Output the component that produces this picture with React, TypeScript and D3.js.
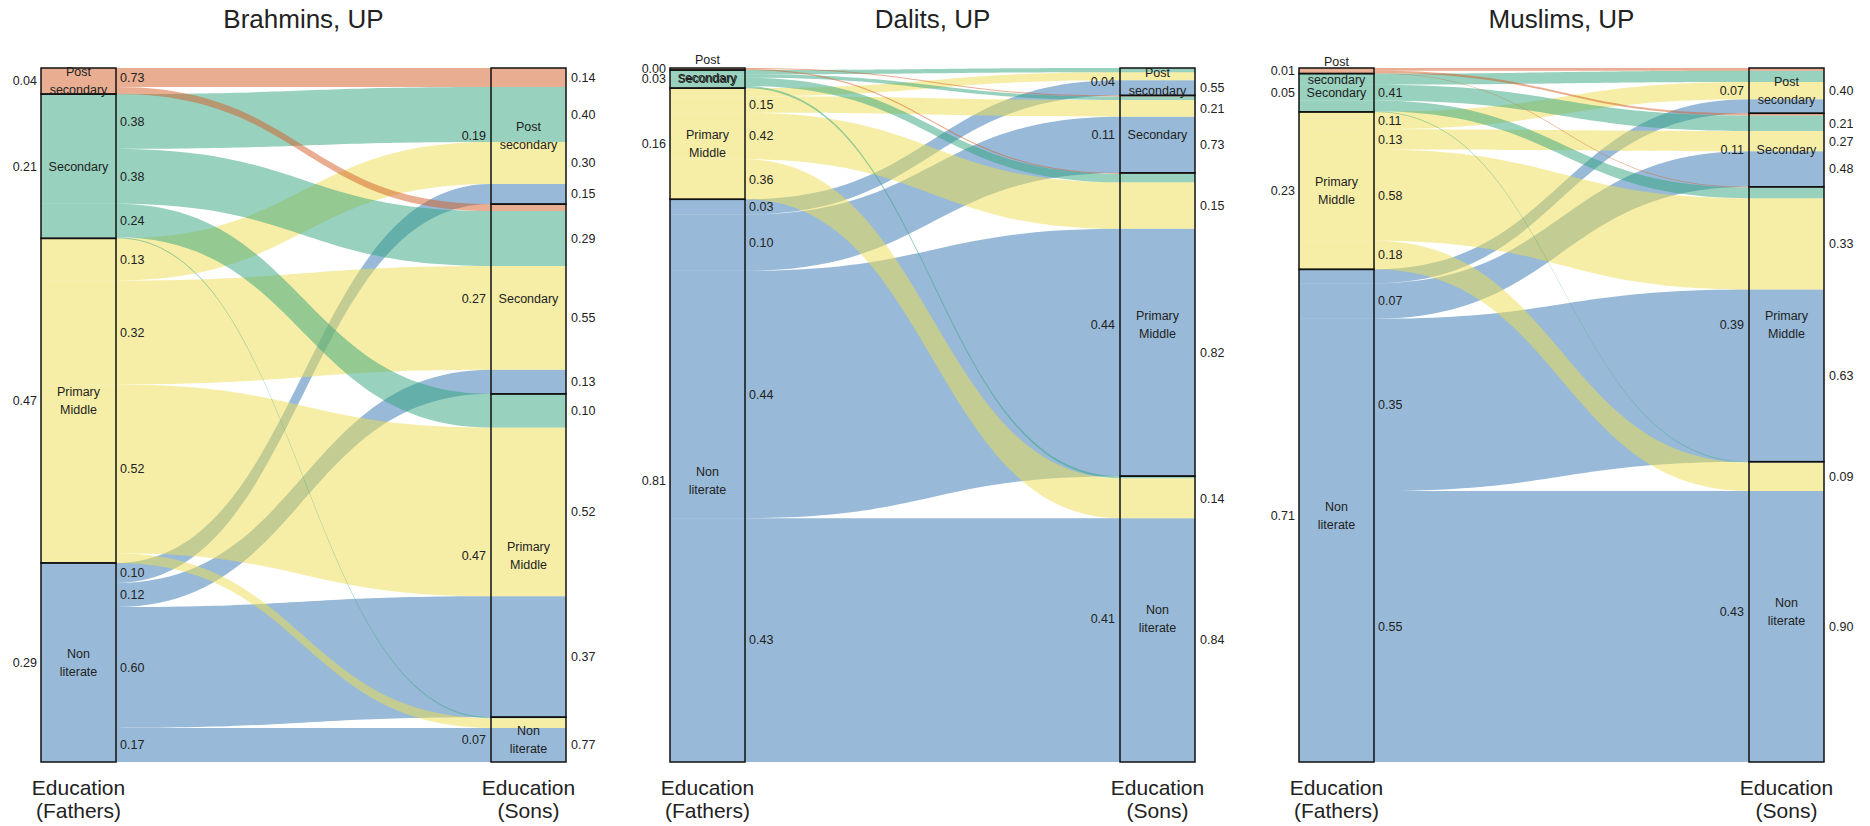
import React from "react";
import * as d3 from "d3";

// ---------- data ----------
const categories = ["Post secondary", "Secondary", "Primary Middle", "Non literate"];
const stratumLabelLines = [["Post", "secondary"], ["Secondary"], ["Primary", "Middle"], ["Non", "literate"]];
const categoryColors = ["#D35D23", "#31A37D", "#EDDD4D", "#3175B1"];
const panelTitles = ["Brahmins, UP", "Dalits, UP", "Muslims, UP"];
const axisTitles = [["Education", "(Fathers)"], ["Education", "(Sons)"]];

// joint shares (% of all father-son pairs), rows = father's education, cols = son's education
const brahminsFlows = [
  [2.74, 1.01, 0, 0],
  [7.89, 7.89, 4.83, 0.15],
  [6.07, 14.94, 24.28, 1.4],
  [2.88, 3.46, 17.4, 4.9],
];
const dalitsFlows = [
  [0, 0.15, 0.15, 0],
  [0.6, 0.5, 1.2, 0.3],
  [1.15, 2.4, 6.7, 5.75],
  [2.2, 8.1, 35.6, 35.1],
];
const muslimsFlows = [
  [0.4, 0.3, 0.1, 0],
  [1.6, 2.25, 1.55, 0.1],
  [2.5, 2.9, 13.1, 4.1],
  [2.0, 5.1, 24.7, 38.9],
];

// printed labels
const brahminsFatherShares = ["0.04", "0.21", "0.47", "0.29"];
const brahminsSonShares = ["0.19", "0.27", "0.47", "0.07"];
const brahminsOutLabels = [
  ["0.73", "", "", ""],
  ["0.38", "0.38", "0.24", ""],
  ["0.13", "0.32", "0.52", ""],
  ["0.10", "0.12", "0.60", "0.17"],
];
const brahminsInLabels = [
  ["0.14", "0.40", "0.30", "0.15"],
  ["", "0.29", "0.55", "0.13"],
  ["", "0.10", "0.52", "0.37"],
  ["", "", "", "0.77"],
];

const dalitsFatherShares = ["0.00", "0.03", "0.16", "0.81"];
const dalitsSonShares = ["0.04", "0.11", "0.44", "0.41"];
const dalitsOutLabels = [
  ["", "", "", ""],
  ["", "", "", ""],
  ["", "0.15", "0.42", "0.36"],
  ["0.03", "0.10", "0.44", "0.43"],
];
const dalitsInLabels = [
  ["", "", "", "0.55"],
  ["", "", "0.21", "0.73"],
  ["", "", "0.15", "0.82"],
  ["", "", "0.14", "0.84"],
];

const muslimsFatherShares = ["0.01", "0.05", "0.23", "0.71"];
const muslimsSonShares = ["0.07", "0.11", "0.39", "0.43"];
const muslimsOutLabels = [
  ["", "", "", ""],
  ["", "0.41", "", ""],
  ["0.11", "0.13", "0.58", "0.18"],
  ["", "0.07", "0.35", "0.55"],
];
const muslimsInLabels = [
  ["", "", "0.40", ""],
  ["", "0.21", "0.27", "0.48"],
  ["", "", "0.33", "0.63"],
  ["", "", "0.09", "0.90"],
];

const panels = [
  { title: panelTitles[0], flows: brahminsFlows, fatherShares: brahminsFatherShares, sonShares: brahminsSonShares, outLabels: brahminsOutLabels, inLabels: brahminsInLabels },
  { title: panelTitles[1], flows: dalitsFlows, fatherShares: dalitsFatherShares, sonShares: dalitsSonShares, outLabels: dalitsOutLabels, inLabels: dalitsInLabels },
  { title: panelTitles[2], flows: muslimsFlows, fatherShares: muslimsFatherShares, sonShares: muslimsSonShares, outLabels: muslimsOutLabels, inLabels: muslimsInLabels },
];

// ---------- layout ----------
const W = 1870;
const H = 826;
const FONT = "'Liberation Sans', Arial, Helvetica, sans-serif";
const panelX = d3.scalePoint<number>().domain([0, 1, 2]).range([41, 1299]);
const stratumW = 75;
const axisGap = 450;
const yTop = 68;
const yBottom = 762;
const LABEL_SIZE = 12.5;
const TEXT = "#222";

function Panel({ p, x0 }: { p: (typeof panels)[number]; x0: number }) {
  const n = categories.length;
  const total = d3.sum(p.flows.flat());
  const y = d3.scaleLinear().domain([0, total]).range([yTop, yBottom]);
  const xAxis = d3.scalePoint<number>().domain([0, 1]).range([x0, x0 + axisGap]);
  const xL0 = xAxis(0)!;
  const xL1 = xL0 + stratumW;
  const xR0 = xAxis(1)!;
  const xR1 = xR0 + stratumW;
  const xm = (xL1 + xR0) / 2;

  const fatherTotals = p.flows.map((r) => d3.sum(r));
  const sonTotals = d3.range(n).map((j) => d3.sum(p.flows, (r) => r[j]));
  const fatherStart = [0, ...d3.cumsum(fatherTotals)];
  const sonStart = [0, ...d3.cumsum(sonTotals)];

  // lode positions
  const leftTop: number[][] = [];
  const rightTop: number[][] = [];
  for (let i = 0; i < n; i++) {
    leftTop.push([]);
    let acc = fatherStart[i];
    for (let j = 0; j < n; j++) {
      leftTop[i].push(acc);
      acc += p.flows[i][j];
    }
  }
  for (let i = 0; i < n; i++) rightTop.push([]);
  for (let j = 0; j < n; j++) {
    let acc = sonStart[j];
    for (let i = 0; i < n; i++) {
      rightTop[i][j] = acc;
      acc += p.flows[i][j];
    }
  }

  const flowPaths: { d: string; color: string; key: string }[] = [];
  for (let i = n - 1; i >= 0; i--) {
    for (let j = 0; j < n; j++) {
      const v = p.flows[i][j];
      if (v <= 0) continue;
      const a0 = y(leftTop[i][j]);
      const a1 = y(leftTop[i][j] + v);
      const b0 = y(rightTop[i][j]);
      const b1 = y(rightTop[i][j] + v);
      const path = d3.path();
      path.moveTo(xL0, a0);
      path.lineTo(xL1, a0);
      path.bezierCurveTo(xm, a0, xm, b0, xR0, b0);
      path.lineTo(xR1, b0);
      path.lineTo(xR1, b1);
      path.lineTo(xR0, b1);
      path.bezierCurveTo(xm, b1, xm, a1, xL1, a1);
      path.lineTo(xL0, a1);
      path.closePath();
      flowPaths.push({ d: path.toString(), color: categoryColors[i], key: `f${i}-${j}` });
    }
  }

  const labelStyle = { fontFamily: FONT, fontSize: LABEL_SIZE, fill: TEXT } as const;
  const texts: React.ReactNode[] = [];

  for (let i = 0; i < n; i++) {
    const cy = (y(fatherStart[i]) + y(fatherStart[i + 1])) / 2;
    texts.push(
      <text key={`fs${i}`} x={xL0 - 4} y={cy} dy="0.35em" textAnchor="end" {...labelStyle}>
        {p.fatherShares[i]}
      </text>
    );
    const lines = stratumLabelLines[i];
    lines.forEach((ln, k) => {
      texts.push(
        <text key={`fl${i}-${k}`} x={(xL0 + xL1) / 2} y={cy + (k - (lines.length - 1) / 2) * 18} dy="0.35em" textAnchor="middle" {...labelStyle}>
          {ln}
        </text>
      );
    });
  }
  for (let j = 0; j < n; j++) {
    const cy = (y(sonStart[j]) + y(sonStart[j + 1])) / 2;
    texts.push(
      <text key={`ss${j}`} x={xR0 - 5} y={cy} dy="0.35em" textAnchor="end" {...labelStyle}>
        {p.sonShares[j]}
      </text>
    );
    const lines = stratumLabelLines[j];
    lines.forEach((ln, k) => {
      texts.push(
        <text key={`sl${j}-${k}`} x={(xR0 + xR1) / 2} y={cy + (k - (lines.length - 1) / 2) * 18} dy="0.35em" textAnchor="middle" {...labelStyle}>
          {ln}
        </text>
      );
    });
  }
  for (let i = 0; i < n; i++) {
    for (let j = 0; j < n; j++) {
      const v = p.flows[i][j];
      const out = p.outLabels[i][j];
      if (out) {
        const cy = y(leftTop[i][j] + v / 2);
        texts.push(
          <text key={`ol${i}-${j}`} x={xL1 + 4} y={cy} dy="0.35em" {...labelStyle}>
            {out}
          </text>
        );
      }
      const inl = p.inLabels[j][i];
      if (inl) {
        const cy = y(rightTop[i][j] + v / 2);
        texts.push(
          <text key={`il${i}-${j}`} x={xR1 + 5} y={cy} dy="0.35em" {...labelStyle}>
            {inl}
          </text>
        );
      }
    }
  }

  return (
    <g>
      <text x={(xL0 + xR1) / 2} y={28} textAnchor="middle" fontFamily={FONT} fontSize={26} fill={TEXT}>
        {p.title}
      </text>
      <g>
        {flowPaths.map((f) => (
          <path key={f.key} d={f.d} fill={f.color} fillOpacity={0.5} stroke="none" />
        ))}
      </g>
      <g>
        {d3.range(n).map((i) => (
          <rect key={`lb${i}`} x={xL0} y={y(fatherStart[i])} width={stratumW} height={y(fatherStart[i + 1]) - y(fatherStart[i])} fill="none" stroke="#111" strokeWidth={1.5} />
        ))}
        {d3.range(n).map((j) => (
          <rect key={`rb${j}`} x={xR0} y={y(sonStart[j])} width={stratumW} height={y(sonStart[j + 1]) - y(sonStart[j])} fill="none" stroke="#111" strokeWidth={1.5} />
        ))}
      </g>
      <g>{texts}</g>
      {[xL0, xR0].map((xa, a) =>
        axisTitles[a].map((t, k) => (
          <text key={`ax${a}-${k}`} x={xa + stratumW / 2} y={795 + k * 23} textAnchor="middle" fontFamily={FONT} fontSize={21} fill={TEXT}>
            {t}
          </text>
        ))
      )}
    </g>
  );
}

export default function App() {
  return (
    <svg width={W} height={H} style={{ position: "absolute", left: 0, top: 0, background: "#fff" }}>
      <rect x={0} y={0} width={W} height={H} fill="#fff" />
      {panels.map((p, k) => (
        <Panel key={k} p={p} x0={panelX(k)!} />
      ))}
    </svg>
  );
}
